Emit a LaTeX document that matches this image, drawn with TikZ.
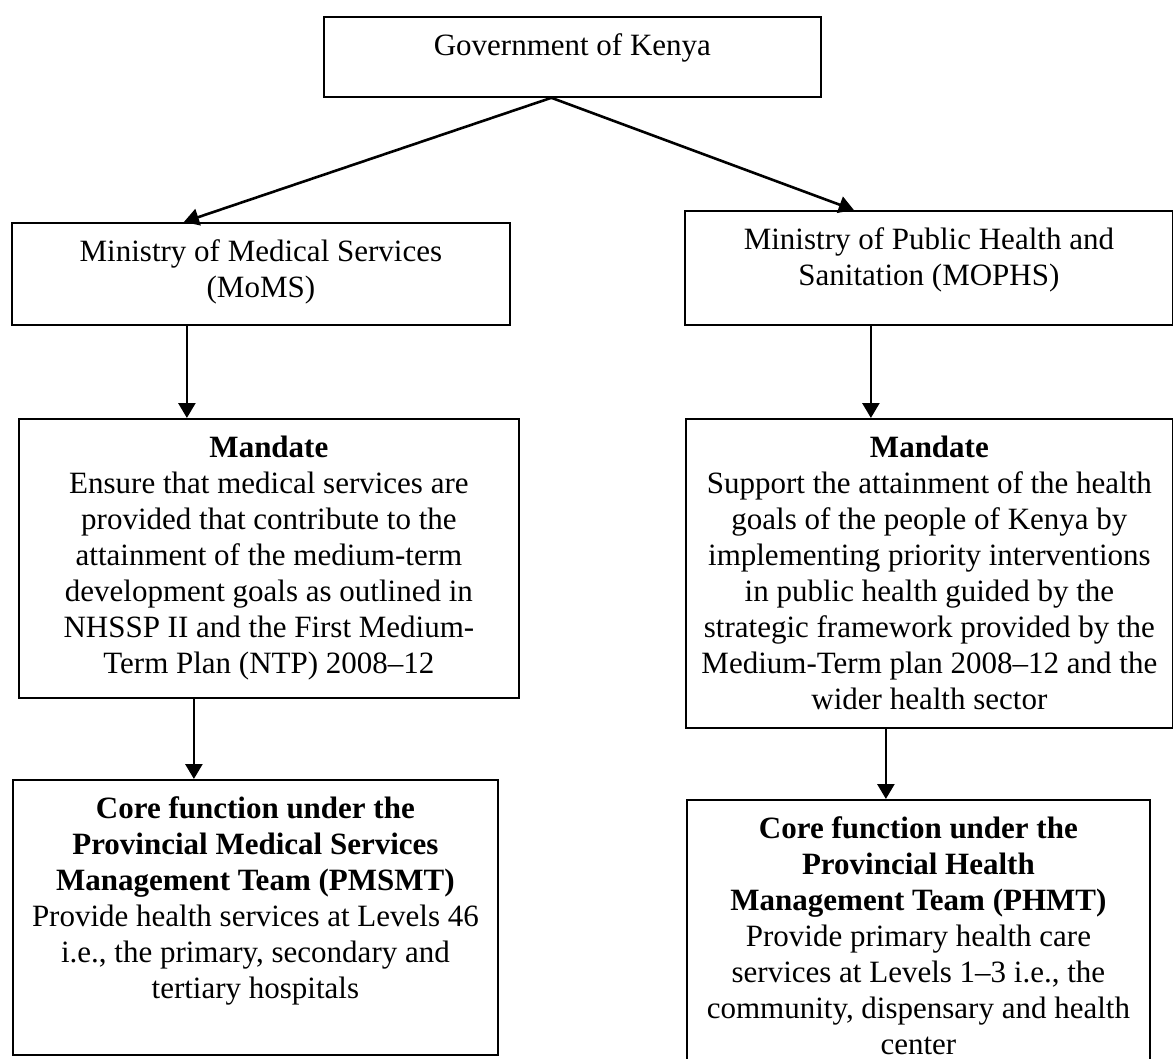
\documentclass[tikz,border=0pt]{standalone}
\usepackage{fontspec}
\setmainfont{Liberation Serif}
\usetikzlibrary{arrows.meta}

% box text: height, width, contents (top aligned, centred)
\newcommand{\boxtext}[3]{\parbox[c][#1][t]{#2}{\centering\vspace*{8.5pt}#3}}

\begin{document}
\begin{tikzpicture}[x=0.5pt, y=-0.5pt,
    every node/.style={draw,
                       line width=0.9pt,
                       inner sep=0pt,
                       anchor=north west,
                       font=\fontsize{15.5}{18}\selectfont},
    arr/.style={-{Triangle[length=7.5pt,width=8.5pt]}, line width=1.3pt}]
  \useasboundingbox (0,0) rectangle (1173,1059);

  \node (gov) at (323,16) {\boxtext{40pt}{248.5pt}{Government of Kenya}};

  \node (moms) at (11,222) {\boxtext{51pt}{249pt}{Ministry of Medical Services\\ (MoMS)}};
  \node (mophs) at (684,210) {\boxtext{57pt}{244pt}{Ministry of Public Health and\\ Sanitation (MOPHS)}};

  \node (mand1) at (18,418) {\boxtext{139.5pt}{250pt}{\textbf{Mandate}\\
      Ensure that medical services are\\
      provided that contribute to the\\
      attainment of the medium-term\\
      development goals as outlined in\\
      NHSSP II and the First Medium-\\
      Term Plan (NTP) 2008--12}};
  \node (mand2) at (685,418) {\boxtext{154.5pt}{243.5pt}{\textbf{Mandate}\\
      Support the attainment of the health\\
      goals of the people of Kenya by\\
      implementing priority interventions\\
      in public health guided by the\\
      strategic framework provided by the\\
      Medium-Term plan 2008--12 and the\\
      wider health sector}};

  \node (core1) at (12,779) {\boxtext{137.5pt}{242.5pt}{\textbf{Core function under the}\\
      \textbf{Provincial Medical Services}\\
      \textbf{Management Team (PMSMT)}\\
      Provide health services at Levels 46\\
      i.e., the primary, secondary and\\
      tertiary hospitals}};
  \node (core2) at (686,799) {\boxtext{135pt}{231.5pt}{\textbf{Core function under the}\\
      \textbf{Provincial Health}\\
      \textbf{Management Team (PHMT)}\\
      Provide primary health care\\
      services at Levels 1--3 i.e., the\\
      community, dispensary and health\\
      center}};

  \draw[arr] ([xshift=-10.5pt]gov.south) -- ([xshift=-38.5pt]moms.north);
  \draw[arr] ([xshift=-10.5pt]gov.south) -- ([xshift=-37.5pt]mophs.north);
  \draw[arr] ([xshift=-37pt]moms.south) -- ([xshift=-37pt]moms.south |- mand1.north);
  \draw[arr] ([xshift=-29pt]mophs.south) -- ([xshift=-29pt]mophs.south |- mand2.north);
  \draw[arr] ([xshift=-37.5pt]mand1.south) -- ([xshift=-37.5pt]mand1.south |- core1.north);
  \draw[arr] ([xshift=-21.75pt]mand2.south) -- ([xshift=-21.75pt]mand2.south |- core2.north);
\end{tikzpicture}
\end{document}
